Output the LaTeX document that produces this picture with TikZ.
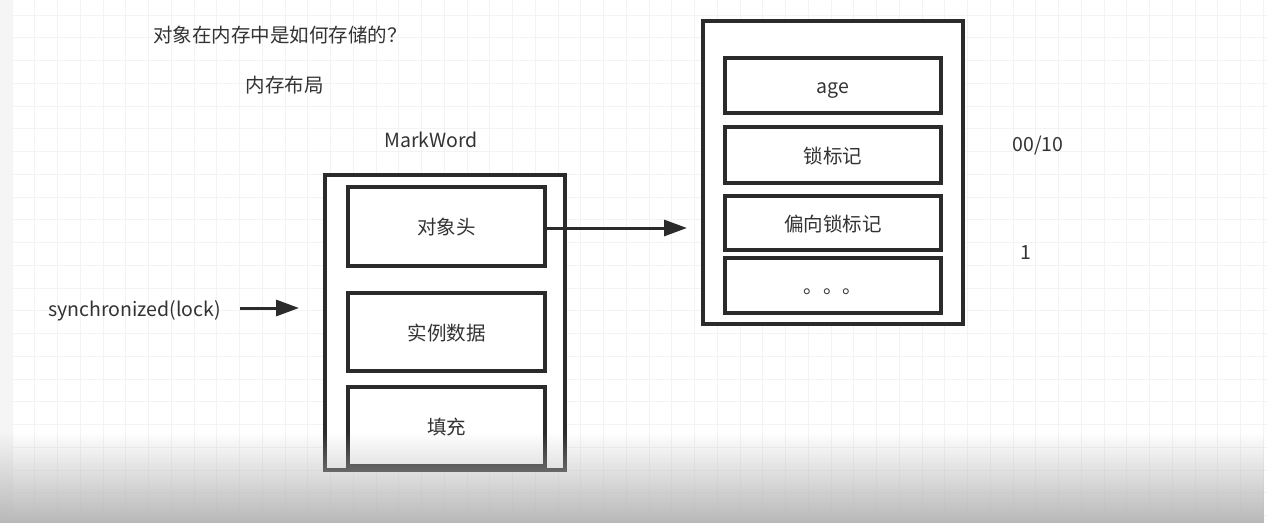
\documentclass[tikz,border=0pt]{standalone}
\usepackage{fontspec}
\setmainfont{Noto Sans CJK SC}
\usetikzlibrary{arrows.meta,fadings}
\definecolor{ink}{HTML}{2B2B2B}
\definecolor{txt}{HTML}{333333}
\definecolor{gridminor}{HTML}{F3F3F3}
\tikzfading[name=fadeup, top color=transparent!100, bottom color=transparent!0]
\tikzset{
  outerbox/.style={draw=ink, line width=3.2pt, fill=white, inner sep=0pt},
  cell/.style={draw=ink, line width=3.2pt, fill=white, inner sep=0pt, minimum width=#1,
     text=txt, font=\fontsize{19.5}{23}\selectfont, text height=18pt, text depth=1.5pt},
  label/.style={text=txt, font=\fontsize{19.5}{23}\selectfont, inner sep=0pt},
  arr/.style={draw=ink, line width=3pt, -{Triangle[length=23pt,width=16pt]}},
}
\begin{document}
\begin{tikzpicture}[x=1pt,y=-1pt]
\useasboundingbox (0,0) rectangle (1267,523);
\fill[white!96!black] (0,0) rectangle (1267,523);
\fill[white] (12,0) rectangle (1267,523);
% grid
\foreach \i in {0,...,55} {
  \pgfmathsetmacro{\gx}{12+22.75*\i}
  \draw[gridminor, line width=0.8pt] (\gx,0) -- (\gx,523);
}
\foreach \j in {0,...,23} {
  \pgfmathsetmacro{\gy}{15+22.75*\j}
  \draw[gridminor, line width=0.8pt] (12,\gy) -- (1267,\gy);
}
% titles
\node[label] (title) at (280,35) {对象在内存中是如何存储的？};
\node[label] (layout) at (284.5,85) {内存布局};
\node[label] (mw) at (431,140) {MarkWord};
% left object
\node[outerbox, minimum width=240pt, minimum height=295pt] (obj) at (445,322.5) {};
\node[cell=197pt, minimum height=79pt] (head) at (446.5,226.5) {对象头};
\node[cell=197pt, minimum height=78pt] (inst) at (446.5,332) {实例数据};
\node[cell=197pt, minimum height=79pt] (pad) at (446.5,426.5) {填充};
% right markword
\node[outerbox, minimum width=260pt, minimum height=303pt] (mword) at (833,172.5) {};
\node[cell=216pt, minimum height=55pt] (age) at (833,85.5) {age};
\node[cell=216pt, minimum height=56pt] (lock) at (833,155) {锁标记};
\node[cell=216pt, minimum height=54pt] (bias) at (833,223) {偏向锁标记};
\node[cell=216pt, minimum height=55pt] (more) at (833,285.5) {。。。};
% side labels
\node[label] (v1) at (1038,145) {00/10};
\node[label] (v2) at (1026,253) {1};
\node[label] (sync) at (134.5,311) {synchronized(lock)};
% arrows
\coordinate (headend) at (687,228);
\draw[arr] (head.east |- headend) -- (headend);
\coordinate (syncstart) at (240,308);
\coordinate (syncend) at (299,308);
\draw[arr] (syncstart) -- (syncend);
% bottom video shade
\fill[black!28, path fading=fadeup] (0,432) rectangle (1267,523);
\end{tikzpicture}
\end{document}
